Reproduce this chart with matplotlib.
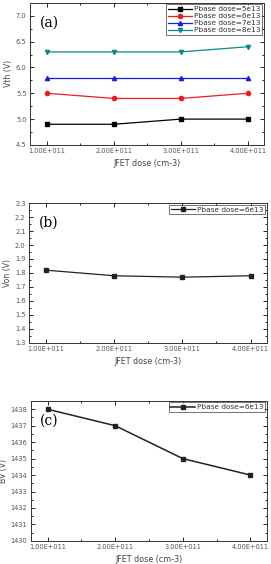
import matplotlib
matplotlib.use("Agg")
import matplotlib.pyplot as plt
from matplotlib.ticker import AutoMinorLocator, MultipleLocator

jfet_dose = [1e11, 2e11, 3e11, 4e11]
xtick_labels = ["1.00E+011", "2.00E+011", "3.00E+011", "4.00E+011"]

vth_5e13 = [4.9, 4.9, 5.0, 5.0]
vth_6e13 = [5.5, 5.4, 5.4, 5.5]
vth_7e13 = [5.8, 5.8, 5.8, 5.8]
vth_8e13 = [6.3, 6.3, 6.3, 6.4]
vth_labels = ["Pbase dose=5e13", "Pbase dose=6e13", "Pbase dose=7e13", "Pbase dose=8e13"]

von_6e13 = [1.82, 1.78, 1.77, 1.78]
bv_6e13 = [1438, 1437, 1435, 1434]

fig = plt.figure(figsize=(2.71, 5.64), dpi=100)
ax_a = fig.add_axes([0.111, 0.743, 0.863, 0.252])
ax_b = fig.add_axes([0.107, 0.392, 0.878, 0.248])
ax_c = fig.add_axes([0.113, 0.041, 0.871, 0.248])

tick_col = "#555555"

def style(ax, ylabel, ymaj, tag):
    ax.set_xlim(0.75e11, 4.24e11)
    ax.set_xticks(jfet_dose)
    ax.set_xticklabels(xtick_labels)
    ax.yaxis.set_major_locator(MultipleLocator(ymaj))
    ax.xaxis.set_minor_locator(AutoMinorLocator(2))
    ax.yaxis.set_minor_locator(AutoMinorLocator(2))
    ax.tick_params(which="both", direction="in", top=True, right=True,
                   labelsize=4.8, labelcolor=tick_col, width=0.6, pad=2.5)
    ax.tick_params(which="major", length=3)
    ax.tick_params(which="minor", length=1.6)
    for s in ax.spines.values():
        s.set_linewidth(0.7)
        s.set_color("#333333")
    ax.set_xlabel("JFET dose (cm-3)", fontsize=5.8, color="#444444", labelpad=3.5)
    ax.set_ylabel(ylabel, fontsize=5.6, color="#444444", labelpad=2)
    ax.text(0.04, 0.86, tag, transform=ax.transAxes, fontsize=10,
            family="DejaVu Serif", va="center", ha="left")

def leg(ax):
    l = ax.legend(loc="upper right", fontsize=5.3, frameon=True, fancybox=False,
                  edgecolor="#333333", borderpad=0.25, labelspacing=0.12,
                  handlelength=3.3, handletextpad=0.3, borderaxespad=0.2)
    l.get_frame().set_linewidth(0.6)
    for t in l.get_texts():
        t.set_color("#333333")

lw = 0.9
ms = 3
ax_a.plot(jfet_dose, vth_5e13, color="black", marker="s", ms=ms, lw=lw, label=vth_labels[0])
ax_a.plot(jfet_dose, vth_6e13, color="#ee1c1c", marker="o", ms=ms, lw=lw, label=vth_labels[1])
ax_a.plot(jfet_dose, vth_7e13, color="#1a1aee", marker="^", ms=ms, lw=lw, label=vth_labels[2])
ax_a.plot(jfet_dose, vth_8e13, color="#0a8a8a", marker="v", ms=ms, lw=lw, label=vth_labels[3])
ax_a.set_ylim(4.5, 7.25)
style(ax_a, "Vth (V)", 0.5, "(a)")
leg(ax_a)

ax_b.plot(jfet_dose, von_6e13, color="#222222", marker="s", ms=ms, lw=lw, label="Pbase dose=6e13")
ax_b.set_ylim(1.3, 2.3)
style(ax_b, "Von (V)", 0.1, "(b)")
leg(ax_b)

ax_c.plot(jfet_dose, bv_6e13, color="#222222", marker="s", ms=ms, lw=1.1, label="Pbase dose=6e13")
ax_c.set_ylim(1430, 1438.5)
style(ax_c, "BV (V)", 1, "(c)")
leg(ax_c)

fig.savefig("out.png", dpi=100)
